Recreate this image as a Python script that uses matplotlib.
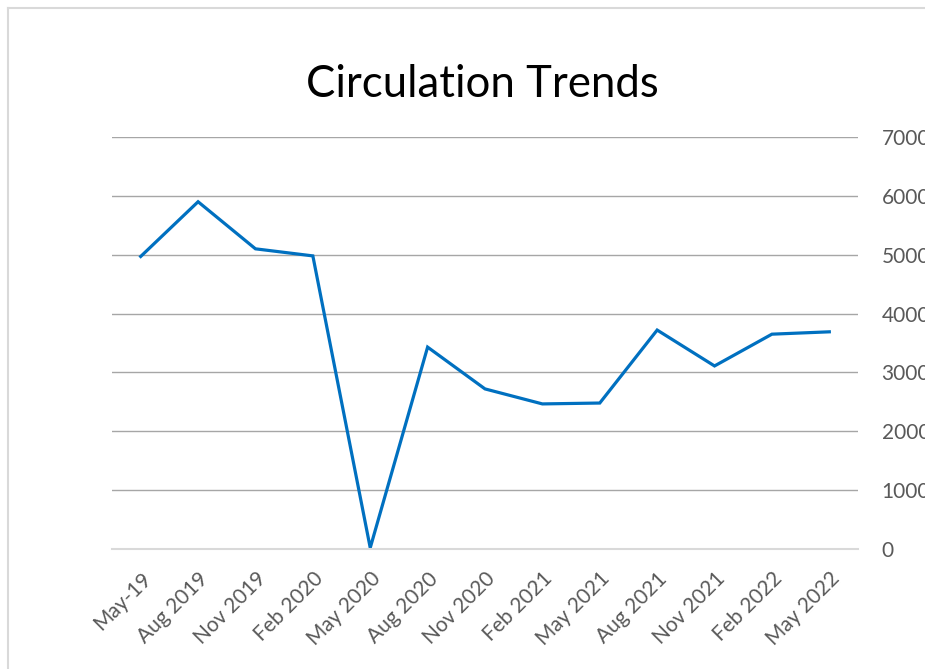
import matplotlib.pyplot as plt
from matplotlib.lines import Line2D

# quarterly circulation
months = ['May-19', 'Aug 2019', 'Nov 2019', 'Feb 2020', 'May 2020', 'Aug 2020',
          'Nov 2020', 'Feb 2021', 'May 2021', 'Aug 2021', 'Nov 2021',
          'Feb 2022', 'May 2022']
circulation = [4970, 5900, 5100, 4980, 20, 3430, 2720, 2465, 2480, 3720,
               3110, 3650, 3690]
yticks = [0, 1000, 2000, 3000, 4000, 5000, 6000, 7000]

plt.rcParams['font.family'] = ['Lato', 'DejaVu Sans']

fig = plt.figure(figsize=(9.25, 6.69), dpi=100)
ax = fig.add_axes([112 / 925, 1 - 549 / 669, 746 / 925, 412 / 669])

x = list(range(len(months)))
ax.plot(x, circulation, color='#0070C0', lw=2.3, solid_joinstyle='miter')

ax.set_xlim(-0.5, len(months) - 0.5)
ax.set_ylim(0, 7000)
ax.set_yticks(yticks)
ax.set_yticklabels([str(v) for v in yticks])
ax.set_xticks(x)
ax.set_xticklabels(months, rotation=45, ha='right', rotation_mode='anchor')

ax.yaxis.tick_right()
ax.tick_params(axis='both', length=0, colors='#595959', labelsize=15)
ax.tick_params(axis='y', pad=17)
ax.tick_params(axis='x', pad=14)

for v in yticks[1:]:
    ax.axhline(v, color='#a6a6a6', lw=1, zorder=0)
for s in ['top', 'left', 'right']:
    ax.spines[s].set_visible(False)
ax.spines['bottom'].set_color('#d9d9d9')
ax.spines['bottom'].set_linewidth(1.5)

fig.text(482 / 925, 1 - 97 / 669, 'Circulation Trends', ha='center',
         va='baseline', fontsize=31.5, color='black')

# chart border (left and top edges visible)
fig.add_artist(Line2D([8 / 925, 8 / 925], [0, 1 - 8 / 669],
                      transform=fig.transFigure, color='#d9d9d9', lw=1.5))
fig.add_artist(Line2D([8 / 925, 1], [1 - 8 / 669, 1 - 8 / 669],
                      transform=fig.transFigure, color='#d9d9d9', lw=1.5))

fig.savefig('out.png', dpi=100)
